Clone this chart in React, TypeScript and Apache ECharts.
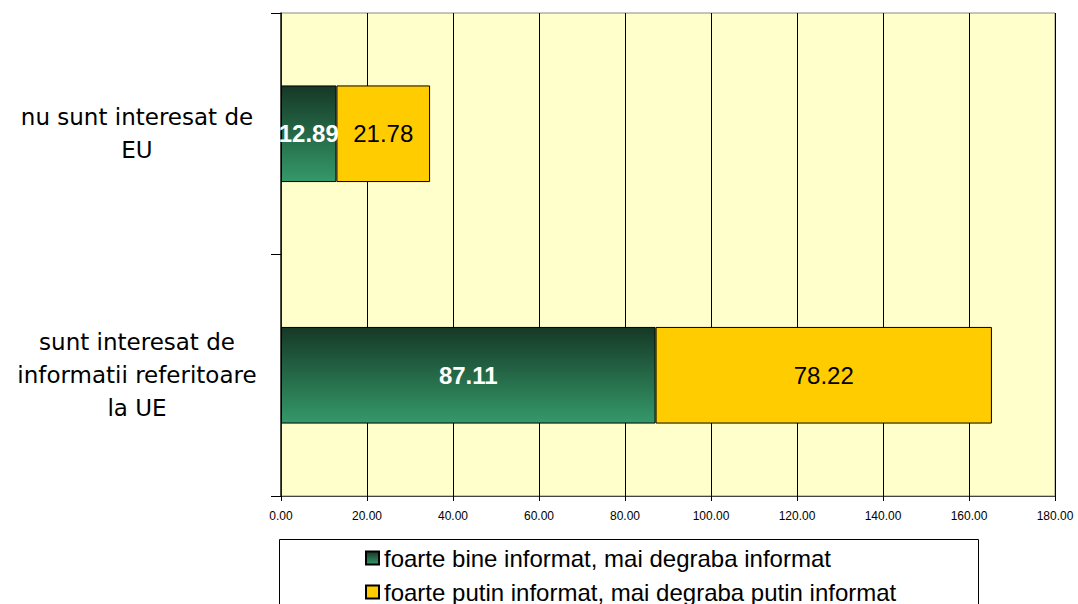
import React, { useEffect, useRef } from "react";
import * as echarts from "echarts";

const categories = ["nu sunt interesat de\nEU", "sunt interesat de\ninformatii referitoare\nla UE"];
const seriesNames = [
  "foarte bine informat, mai degraba informat",
  "foarte putin informat, mai degraba putin informat",
];
const wellInformed = [12.89, 87.11];
const littleInformed = [21.78, 78.22];
const axisMin = 0;
const axisMax = 180;
const axisInterval = 20;

export default function App() {
  const ref = useRef<HTMLDivElement>(null);
  useEffect(() => {
    if (!ref.current) return;
    const chart = echarts.init(ref.current, null, { renderer: "svg" });
    const green = new echarts.graphic.LinearGradient(0, 0, 0, 1, [
      { offset: 0, color: "#163826" },
      { offset: 1, color: "#34996A" },
    ]);
    chart.setOption({
      animation: false,
      backgroundColor: "#ffffff",
      graphic: [
        {
          type: "rect",
          z: -1,
          shape: { x: 279.5, y: 539.5, width: 699, height: 100 },
          style: { fill: "#fff", stroke: "#000", lineWidth: 1 },
        },
      ],
      grid: {
        left: 281,
        top: 13,
        right: 23,
        bottom: 108,
        show: true,
        backgroundColor: "#FFFFCC",
        borderColor: "#8c8c7a",
        borderWidth: 1,
      },
      legend: {
        orient: "vertical",
        left: 365,
        top: 546,
        height: 80,
        padding: 0,
        itemWidth: 13,
        itemHeight: 13,
        itemGap: 10,
        icon: "rect",
        textStyle: { fontFamily: "Liberation Sans, Arial", fontSize: 24, color: "#000" },
        data: seriesNames,
      },
      xAxis: {
        type: "value",
        min: axisMin,
        max: axisMax,
        interval: axisInterval,
        axisLine: { show: true, lineStyle: { color: "#444", width: 1 } },
        axisTick: { show: true, length: 5, lineStyle: { color: "#000" } },
        splitLine: { show: true, lineStyle: { color: "#000", width: 1 } },
        axisLabel: {
          margin: 14,
          fontFamily: "Liberation Sans, Arial",
          fontSize: 12,
          color: "#000",
          formatter: (v: number) => v.toFixed(2),
        },
      },
      yAxis: {
        type: "category",
        inverse: true,
        data: categories,
        axisLine: { show: true, lineStyle: { color: "#222", width: 1.5 } },
        axisTick: { show: true, length: 10, lineStyle: { color: "#000" } },
        axisLabel: {
          margin: 144,
          align: "center",
          fontFamily: "DejaVu Sans",
          fontSize: 23,
          lineHeight: 33,
          color: "#000",
        },
      },
      series: [
        {
          name: seriesNames[0],
          type: "bar",
          stack: "s",
          barWidth: "40%",
          data: wellInformed,
          itemStyle: { color: green, borderColor: "#000", borderWidth: 1 },
          label: {
            show: true,
            position: "inside",
            color: "#fff",
            fontWeight: "bold",
            fontFamily: "Liberation Sans, Arial",
            fontSize: 24,
            formatter: (p: any) => p.value.toFixed(2),
          },
        },
        {
          name: seriesNames[1],
          type: "bar",
          stack: "s",
          barWidth: "40%",
          data: littleInformed,
          itemStyle: { color: "#FFCC00", borderColor: "#000", borderWidth: 1 },
          label: {
            show: true,
            position: "inside",
            color: "#000",
            fontFamily: "Liberation Sans, Arial",
            fontSize: 24,
            formatter: (p: any) => p.value.toFixed(2),
          },
        },
      ],
    });
    return () => chart.dispose();
  }, []);
  return (
    <div
      ref={ref}
      style={{ position: "fixed", left: 0, top: 0, width: 1078, height: 604 }}
    />
  );
}
